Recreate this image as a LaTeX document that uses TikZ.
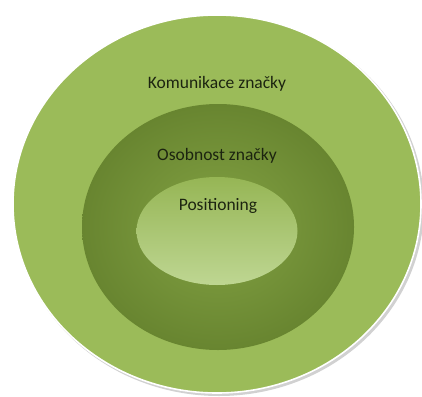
\documentclass[tikz,border=0pt]{standalone}
\usepackage{fontspec}
\setmainfont{Carlito}
\usepackage{tikz}
\usetikzlibrary{shapes.geometric}

\definecolor{brandouter}{RGB}{155,187,89}
\definecolor{brandmid}{RGB}{125,156,62}
\definecolor{branddark}{RGB}{104,133,48}
\definecolor{brandlight}{RGB}{190,214,146}
\definecolor{brandtext}{RGB}{28,36,16}

\begin{document}
\begin{tikzpicture}[x=1pt,y=-1pt,
  every node/.style={font=\fontsize{17.5}{19}\selectfont,text=brandtext},
  ring/.style={ellipse,inner sep=0pt}]
\useasboundingbox (0,0) rectangle (422,396);
% soft shadow under the outer ring
\fill[black!18] (219,206) ellipse [x radius=205, y radius=190];
\node[ring,fill=brandouter,draw=white,line width=1.6pt,minimum width=408pt,minimum height=378pt] (komunikace) at (217,204) {};
\node[ring,shade,inner color=brandmid!80!brandouter,outer color=branddark,minimum width=272pt,minimum height=246pt] (osobnost) at (218,227) {};
\node[ring,shade,top color=brandouter!90!branddark,bottom color=brandlight,minimum width=161pt,minimum height=108pt] (positioning) at (217,231) {};
% labels
\node (komtext) at (217,84) {Komunikace značky};
\node (osobtext) at (217,156) {Osobnost značky};
\node (postext) at (218,206) {Positioning};
\end{tikzpicture}
\end{document}
